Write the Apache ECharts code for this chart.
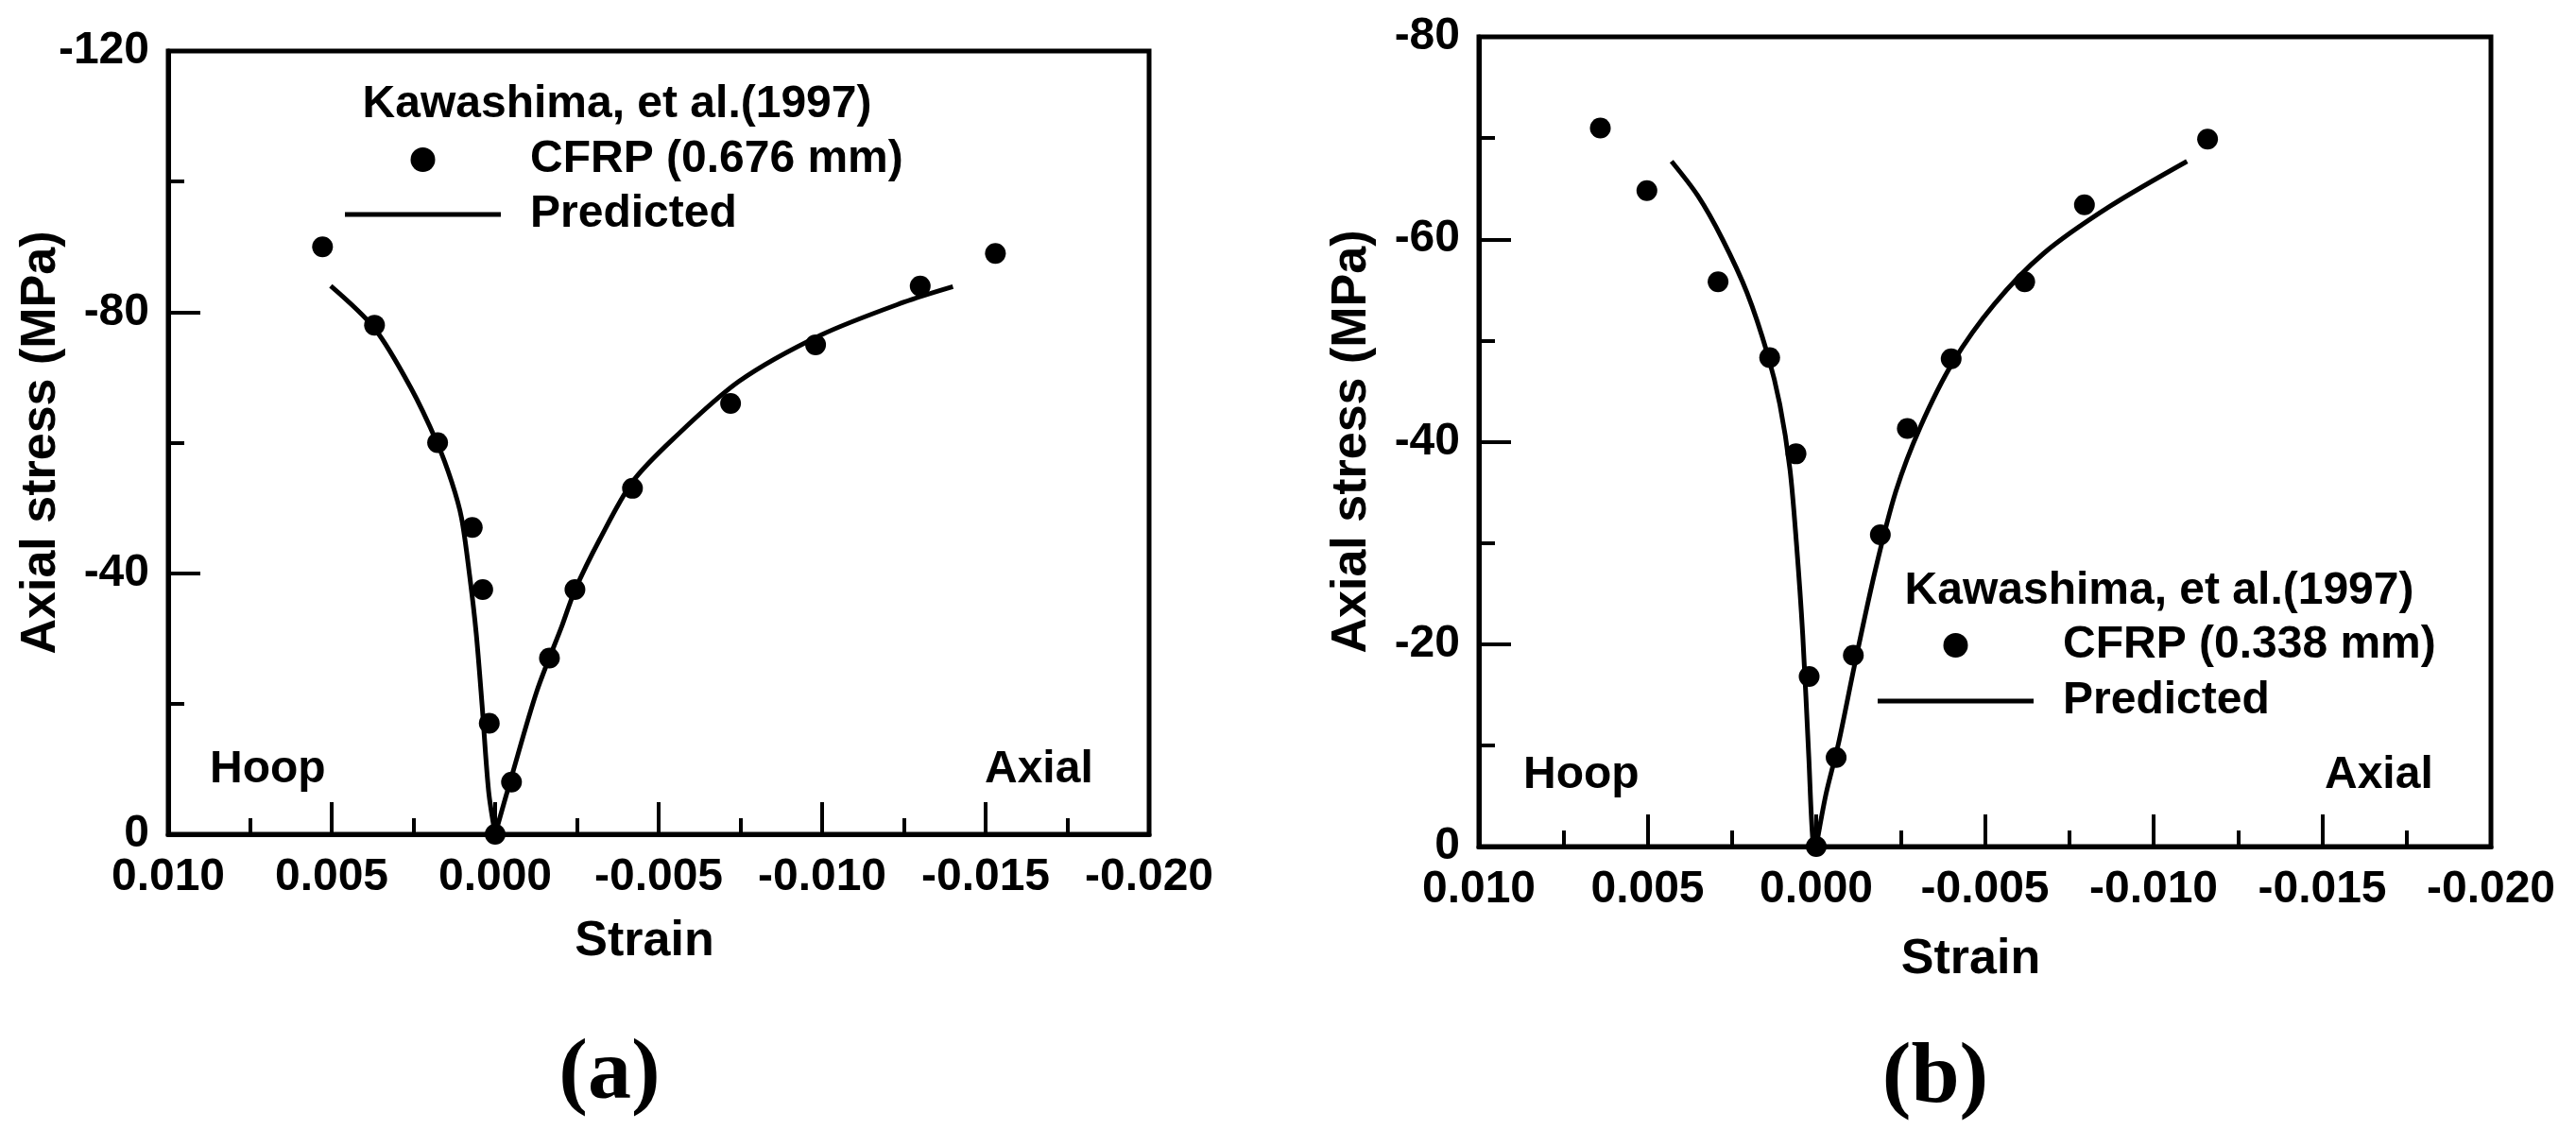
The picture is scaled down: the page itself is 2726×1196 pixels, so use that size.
<!DOCTYPE html>
<html><head><meta charset="utf-8">
<script src="https://cdn.jsdelivr.net/npm/echarts@6/dist/echarts.min.js"></script>
<style>html,body{margin:0;padding:0;background:#fff}#c{width:2726px;height:1196px}</style>
</head><body><div id="c"></div>
<script>
// tick labels
const xTicks = [0.010, 0.005, 0.000, -0.005, -0.010, -0.015, -0.020];
const yTicksA = [-120, -80, -40, 0];
const yTicksB = [-80, -60, -40, -20, 0];
// panel (a) experimental CFRP 0.676 mm
const expA = [[0.00528,-90],[0.00369,-78],[0.00176,-60],[0.00070,-47],[0.00038,-37.5],[0.00018,-17],[0.0000,0],
  [-0.0005,-8],[-0.00166,-27],[-0.00244,-37.5],[-0.0042,-53],[-0.0072,-66],[-0.0098,-75],[-0.0130,-84],[-0.0153,-89]];
// panel (a) predicted, hoop and axial branches
const predHoopA = [[0.00503,-84],[0.00369,-77.5],[0.00259,-68.5],[0.00176,-59.8],[0.00133,-54],[0.00103,-48.5],
  [0.00078,-39.6],[0.00058,-30.8],[0.00040,-19.8],[0.00020,-6.6],[0.0,0]];
const predAxialA = [[0.0,0],[-0.0005,-8.8],[-0.00128,-22],[-0.00204,-31.9],[-0.00244,-37.4],[-0.0032,-45.2],
  [-0.0042,-54],[-0.00545,-60.6],[-0.00746,-69.4],[-0.00997,-76.5],[-0.01249,-81.5],[-0.0140,-83.9]];
// panel (b) experimental CFRP 0.338 mm
const expB = [[0.0064,-71],[0.00502,-64.8],[0.00291,-55.8],[0.00138,-48.3],[0.00060,-38.8],[0.00021,-16.8],[0.0,0],
  [-0.00059,-8.8],[-0.0011,-18.9],[-0.0019,-30.8],[-0.0027,-41.3],[-0.0040,-48.2],[-0.00618,-55.8],[-0.00795,-63.4],[-0.0116,-69.9]];
const predHoopB = [[0.00429,-67.7],[0.00351,-64.3],[0.00278,-60.0],[0.00205,-54.7],[0.00144,-48.6],[0.00108,-43.7],
  [0.00078,-37.3],[0.00059,-30.1],[0.00040,-20.9],[0.00022,-8.8],[0.0001,-0.6],[0.0,0]];
const predAxialB = [[0.0,0],[-0.00029,-5.2],[-0.00066,-10.2],[-0.00114,-18],[-0.00175,-27.3],[-0.00236,-35.1],
  [-0.00309,-41.5],[-0.00406,-47.9],[-0.00528,-53.6],[-0.00674,-58.6],[-0.00868,-63.2],[-0.01099,-67.7]];

const nameA = 'CFRP (0.676 mm)', nameB = 'CFRP (0.338 mm)', namePred = 'Predicted';
const refText = 'Kawashima, et al.(1997)';

const FONT = 'Liberation Sans, Arial, sans-serif';
const lbl = {color:'#000', fontFamily:FONT, fontWeight:'bold', fontSize:48};

function xAxisFor(gi, nameGap) {
  return {
    type:'value', gridIndex:gi, inverse:true,
    min:Math.min(...xTicks), max:Math.max(...xTicks), interval:xTicks[0]-xTicks[1],
    name:'Strain', nameLocation:'middle', nameGap:nameGap, nameMoveOverlap:false,
    nameTextStyle:{color:'#000', fontFamily:FONT, fontWeight:'bold', fontSize:52, padding:[0,30,0,0]},
    axisLine:{show:true, onZero:false, lineStyle:{color:'#000', width:5}},
    axisTick:{show:true, inside:true, length:34, lineStyle:{color:'#000', width:4}},
    minorTick:{show:true, splitNumber:2, length:17, lineStyle:{color:'#000', width:4}},
    splitLine:{show:false},
    axisLabel:Object.assign({margin:22, showMinLabel:true, showMaxLabel:true,
      formatter:v => Math.abs(v) < 1e-12 ? '0.000' : v.toFixed(3)}, lbl)
  };
}
function yAxisFor(gi, ticks) {
  return {
    type:'value', gridIndex:gi, inverse:true,
    min:Math.min(...ticks), max:Math.max(...ticks), interval:ticks[1]-ticks[0],
    name:'Axial stress (MPa)', nameLocation:'middle', nameGap:108, nameMoveOverlap:false,
    nameTextStyle:{color:'#000', fontFamily:FONT, fontWeight:'bold', fontSize:52},
    axisLine:{show:true, onZero:false, lineStyle:{color:'#000', width:5}},
    axisTick:{show:true, inside:true, length:34, lineStyle:{color:'#000', width:4}},
    minorTick:{show:true, splitNumber:2, length:17, lineStyle:{color:'#000', width:4}},
    splitLine:{show:false},
    axisLabel:Object.assign({margin:20, showMinLabel:true, showMaxLabel:true,
      formatter:v => Math.abs(v) < 1e-12 ? '0' : String(v)}, lbl)
  };
}
function scatter(name, data, xi) {
  return {type:'scatter', name:name, xAxisIndex:xi, yAxisIndex:xi, data:data, symbol:'circle', symbolSize:22,
    itemStyle:{color:'#000', opacity:1}, z:3};
}
function line(data, xi) {
  return {type:'line', name:namePred, xAxisIndex:xi, yAxisIndex:xi, data:data, symbol:'none', showSymbol:false, smooth:0.3,
    lineStyle:{color:'#000', width:5}, itemStyle:{color:'#000'}, z:2};
}
function legendFor(left, top, gap, scatterName) {
  return {left:left, top:top, orient:'vertical', padding:0, itemWidth:165, itemHeight:26, itemGap:gap,
    selectedMode:false,
    data:[
      {name:scatterName, icon:'circle', itemStyle:{color:'#000', opacity:1}},
      {name:namePred, icon:'path://M0,0L165,0L165,5L0,5Z', itemStyle:{color:'#000', borderWidth:0}}
    ],
    textStyle:{color:'#000', fontFamily:FONT, fontWeight:'bold', fontSize:48, padding:[0,0,0,26]}};
}
function txt(x, y, s, opts) {
  return {type:'text', x:x, y:y, style:Object.assign({text:s, fill:'#000', font:'bold 48px ' + FONT,
    textVerticalAlign:'middle'}, opts || {})};
}

const chart = echarts.init(document.getElementById('c'), null, {renderer:'canvas'});
chart.setOption({
  backgroundColor:'#fff',
  animation:false,
  grid:[
    {left:178, top:54, width:1038, height:829, show:true, borderColor:'#000', borderWidth:5, backgroundColor:'transparent'},
    {left:1565, top:39, width:1071, height:857, show:true, borderColor:'#000', borderWidth:5, backgroundColor:'transparent'}
  ],
  xAxis:[xAxisFor(0, 88), xAxisFor(1, 94)],
  yAxis:[yAxisFor(0, yTicksA), yAxisFor(1, yTicksB)],
  legend:[
    legendFor(365, 145, 10, nameA),
    legendFor(1987, 659, 11, nameB)
  ],
  series:[
    scatter(nameA, expA, 0), line(predHoopA, 0), line(predAxialA, 0),
    scatter(nameB, expB, 1), line(predHoopB, 1), line(predAxialB, 1)
  ],
  graphic:[
    txt(653, 111, refText, {textAlign:'center'}),
    txt(2285, 626, refText, {textAlign:'center'}),
    txt(222, 815, 'Hoop', {textAlign:'left'}),
    txt(1042, 815, 'Axial', {textAlign:'left'}),
    txt(1612, 821, 'Hoop', {textAlign:'left'}),
    txt(2460, 821, 'Axial', {textAlign:'left'}),
    txt(645, 1138, '(a)', {textAlign:'center', font:'bold 92px Liberation Serif, Times New Roman, serif'}),
    txt(2048, 1142, '(b)', {textAlign:'center', font:'bold 92px Liberation Serif, Times New Roman, serif'})
  ]
});
</script></body></html>
